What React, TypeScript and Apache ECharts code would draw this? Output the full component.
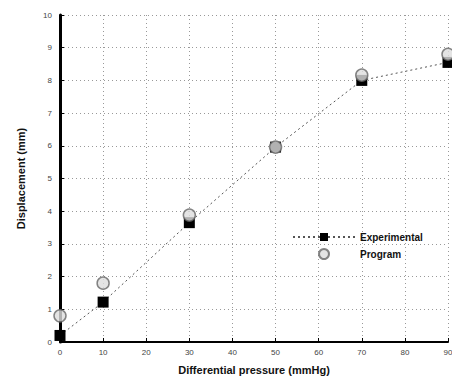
import React, { useEffect, useRef } from "react";
import * as echarts from "echarts";

const pressure = [0, 10, 30, 50, 70, 90];
const experimental = [0.2, 1.22, 3.65, 5.96, 8.0, 8.55];
const program = [0.8, 1.8, 3.88, 5.96, 8.16, 8.8];
const xTicks = [0, 10, 20, 30, 40, 50, 60, 70, 80, 90];
const yTicks = [0, 1, 2, 3, 4, 5, 6, 7, 8, 9, 10];

export default function App() {
  const ref = useRef<HTMLDivElement>(null);
  useEffect(() => {
    if (!ref.current) return;
    const chart = echarts.init(ref.current, null, { renderer: "svg" });
    const font = "Liberation Sans";
    chart.setOption({
      animation: false,
      backgroundColor: "#fff",
      grid: { left: 60, right: 12, top: 15, bottom: 43 },
      legend: {
        left: 287,
        top: 227,
        orient: "vertical",
        itemGap: 6,
        itemWidth: 62,
        itemHeight: 10,
        textStyle: { fontFamily: font, fontSize: 10, fontWeight: "bold", color: "#111" },
        data: [{ name: "Experimental" }, { name: "Program" }],
      },
      xAxis: {
        type: "value",
        min: xTicks[0],
        max: xTicks[xTicks.length - 1],
        interval: 10,
        name: "Differential pressure (mmHg)",
        nameLocation: "middle",
        nameGap: 22,
        nameTextStyle: { fontFamily: font, fontSize: 11, fontWeight: "bold", color: "#111" },
        axisLine: { lineStyle: { color: "#000", width: 2 } },
        axisTick: { inside: true, length: 4, lineStyle: { color: "#000" } },
        axisLabel: { fontFamily: font, fontSize: 8, color: "#444", margin: 6 },
        splitLine: { show: true, lineStyle: { color: "#999", type: [1, 3], width: 1 } },
      },
      yAxis: {
        type: "value",
        min: yTicks[0],
        max: yTicks[yTicks.length - 1],
        interval: 1,
        name: "Displacement (mm)",
        nameLocation: "middle",
        nameGap: 34,
        nameTextStyle: { fontFamily: font, fontSize: 11, fontWeight: "bold", color: "#111" },
        axisLine: { show: true, lineStyle: { color: "#000", width: 3 } },
        axisTick: { show: true, inside: true, length: 4, lineStyle: { color: "#000" } },
        axisLabel: { fontFamily: font, fontSize: 8, color: "#444", margin: 8 },
        splitLine: { show: true, lineStyle: { color: "#999", type: [1, 3], width: 1 } },
      },
      series: [
        {
          name: "Experimental",
          type: "line",
          data: pressure.map((x, i) => [x, experimental[i]]),
          symbol: "rect",
          symbolSize: 11,
          itemStyle: { color: "#000" },
          lineStyle: { color: "#555", width: 1, type: [2, 3] },
          z: 3,
        },
        {
          name: "Program",
          type: "scatter",
          data: pressure.map((x, i) => [x, program[i]]),
          symbol: "circle",
          symbolSize: 12,
          itemStyle: { color: "#ddd", borderColor: "#666", borderWidth: 1.5 },
          z: 4,
        },
      ],
    });
    return () => chart.dispose();
  }, []);
  return <div ref={ref} style={{ width: 460, height: 385, marginLeft: -8, marginTop: -8 }} />;
}
